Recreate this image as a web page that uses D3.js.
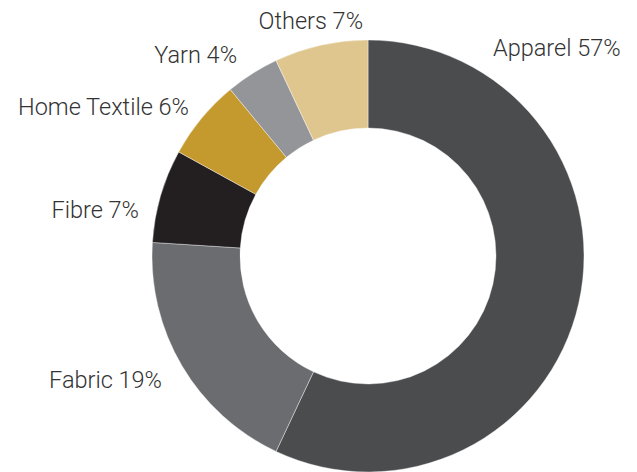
<!DOCTYPE html>
<html>
<head>
<meta charset="utf-8">
<script src="https://cdn.jsdelivr.net/npm/d3@7"></script>
<style>
  html, body { margin: 0; padding: 0; background: #fff; }
  svg { display: block; }
  text { font-family: Roboto, "Noto Sans", sans-serif; font-weight: 300; }
</style>
</head>
<body>
<div id="chart"></div>
<script>
// Segment shares (percent), clockwise from 12 o'clock
const categories = ["Apparel", "Fabric", "Fibre", "Home Textile", "Yarn", "Others"];
const shares = [57, 19, 7, 6, 4, 7];
const colors = ["#4b4c4e", "#6b6c70", "#231f20", "#c49a2e", "#939598", "#dfc68e"];

// Where each label sits (text anchor point, baseline)
const labelLayout = {
  "Apparel":      { x: 493, y: 56,  anchor: "start" },
  "Fabric":       { x: 162, y: 388, anchor: "end" },
  "Fibre":        { x: 139, y: 218, anchor: "end" },
  "Home Textile": { x: 189, y: 115, anchor: "end" },
  "Yarn":         { x: 237, y: 63,  anchor: "end" },
  "Others":       { x: 363, y: 29,  anchor: "end" }
};

const width = 637, height = 472;
const cx = 368, cy = 256;
const outerR = 216, innerR = 128;

const data = categories.map((c, i) => ({ name: c, value: shares[i], color: colors[i] }));

const svg = d3.select("#chart").append("svg")
  .attr("width", width).attr("height", height);

const pie = d3.pie().value(d => d.value).sort(null);
const arc = d3.arc().innerRadius(innerR).outerRadius(outerR);

const g = svg.append("g").attr("transform", `translate(${cx},${cy})`);

g.selectAll("path")
  .data(pie(data))
  .join("path")
  .attr("d", arc)
  .attr("fill", d => d.data.color)
  .attr("stroke", "#ffffff")
  .attr("stroke-width", 0.4);

svg.selectAll("text.lbl")
  .data(data)
  .join("text")
  .attr("class", "lbl")
  .attr("x", d => labelLayout[d.name].x)
  .attr("y", d => labelLayout[d.name].y)
  .attr("text-anchor", d => labelLayout[d.name].anchor)
  .attr("font-size", 23.5)
  .attr("fill", "#333333")
  .text(d => `${d.name} ${d.value}%`);
</script>
</body>
</html>
